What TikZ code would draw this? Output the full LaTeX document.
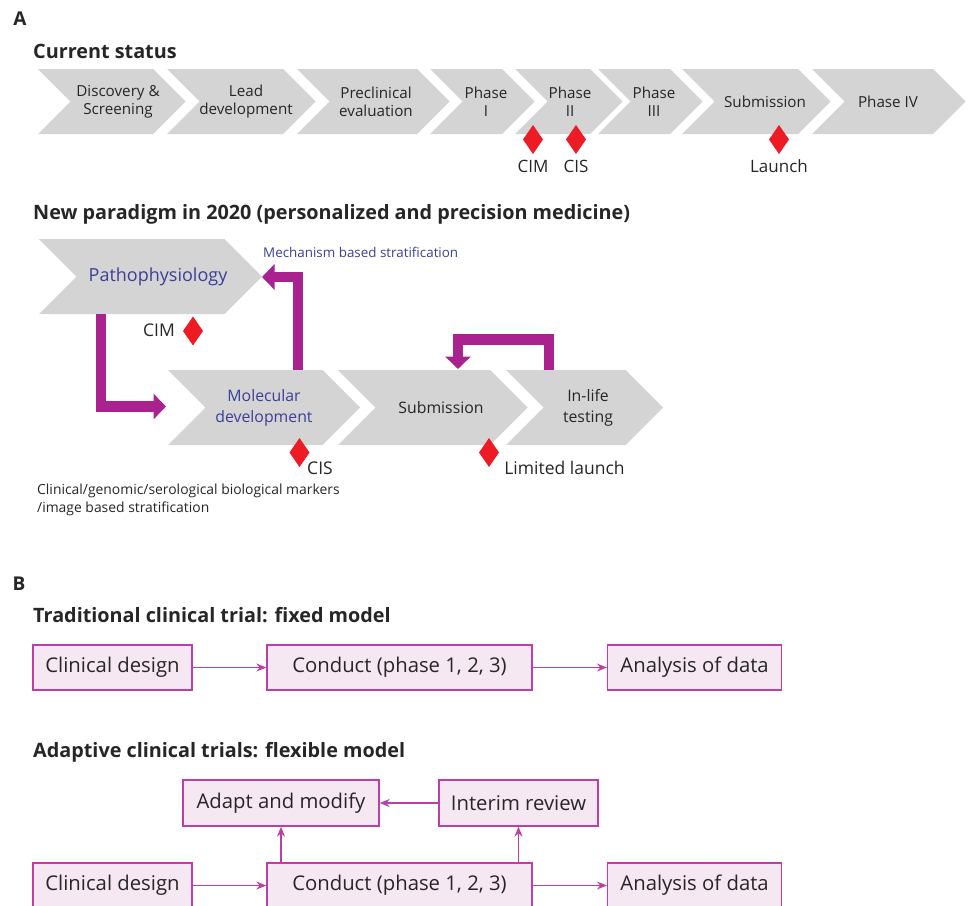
\documentclass[tikz,border=0pt]{standalone}
\usepackage{fontspec}
\setmainfont{Open Sans}
\usetikzlibrary{arrows.meta}
\definecolor{chevfill}{HTML}{D4D4D4}
\definecolor{mag}{HTML}{AA2290}
\definecolor{dred}{HTML}{ED1C24}
\definecolor{dblue}{HTML}{3B3F96}
\definecolor{boxline}{HTML}{BE3FA3}
\definecolor{boxfill}{HTML}{F6E8F3}
\definecolor{txt}{HTML}{262626}
\newcommand\chev[4]{%
 \pgfmathsetmacro\hh{(#4-#3)/2}%
 \pgfmathsetmacro\mm{(#4+#3)/2}%
 \fill[chevfill] (#1,#3) -- (#2,#3) -- ({#2+\hh},\mm) -- (#2,#4) -- (#1,#4) -- ({#1+\hh},\mm) -- cycle;}
\newcommand\dmd[3]{% x y name
 \coordinate (#3) at (#1,#2);
 \fill[dred] ($(#3)+(0,-14.5)$) -- ($(#3)+(10,0)$) -- ($(#3)+(0,14.5)$) -- ($(#3)+(-10,0)$) -- cycle;}
\usetikzlibrary{calc}
\begin{document}
\begin{tikzpicture}[x=1pt,y=-1pt,
 every node/.style={text=txt, inner sep=0pt},
 ttl/.style={font=\bfseries\fontsize{19.8}{22}\selectfont, anchor=west},
 lett/.style={font=\bfseries\fontsize{19}{22}\selectfont},
 chtxt/.style={font=\fontsize{15.2}{18}\selectfont, align=center},
 mtxt/.style={font=\fontsize{15.8}{21}\selectfont, align=center},
 dlab/.style={font=\fontsize{17.5}{20}\selectfont},
 bigarrow/.style={draw=mag, line width=10.5pt, -{Triangle[length=12.5pt,width=25pt]}},
 bbox/.style={draw=boxline, fill=boxfill, line width=1.3pt, minimum height=45pt, font=\fontsize{20.3}{24}\selectfont},
 thin/.style={draw=boxline, line width=1.3pt, -{Stealth[length=10pt,width=8pt]}}]
\useasboundingbox (0,0) rectangle (971,905);
\clip (0,0) rectangle (971,905);
% ---------- A ----------
\node[lett] (A) at (20,19) {A};
\node[ttl] (cs) at (33,51) {Current status};
\chev{38}{153}{69}{134}
\chev{167}{283}{69}{134}
\chev{297}{417}{69}{134}
\chev{430}{502}{69}{134}
\chev{515}{590}{69}{134}
\chev{598}{670}{69}{134}
\chev{682}{798}{69}{134}
\chev{812}{933}{69}{134}
\node[chtxt] (c1) at (118,101.5) {Discovery \&\\Screening};
\node[chtxt] (c2) at (246,101.5) {Lead\\development};
\node[chtxt] (c3) at (376,101.5) {Preclinical\\evaluation};
\node[chtxt] (c4) at (486,101.5) {Phase\\I};
\node[chtxt] (c5) at (570,101.5) {Phase\\II};
\node[chtxt] (c6) at (654,101.5) {Phase\\III};
\node[chtxt] (c7) at (765,101.5) {Submission};
\node[chtxt] (c8) at (888,101.5) {Phase IV};
\dmd{533}{139.5}{d1}
\dmd{576}{139.5}{d2}
\dmd{779}{139.5}{d3}
\node[dlab, font=\fontsize{17}{20}\selectfont] (l1) at (533,166) {CIM};
\node[dlab, font=\fontsize{17}{20}\selectfont] (l2) at (576,166) {CIS};
\node[dlab, font=\fontsize{17}{20}\selectfont] (l3) at (779,166) {Launch};
\node[ttl] (np) at (33,214) {New paradigm in 2020 (personalized and precision medicine)};
\chev{39}{224.5}{239}{314}
\chev{168}{322.6}{370}{445}
\chev{338}{490}{370}{445}
\chev{506}{625.5}{370}{445}
\node[font=\fontsize{18}{20}\selectfont, text=dblue] (pp) at (158,277) {Pathophysiology};
\node[font=\fontsize{13.4}{16}\selectfont, text=dblue, anchor=west] (mb) at (263,252) {Mechanism based stratification};
\node[mtxt, text=dblue] (md) at (264,407.5) {Molecular\\development};
\node[mtxt] (sb) at (441,407.5) {Submission};
\node[mtxt] (il) at (588,407.5) {In-life\\testing};
\coordinate (ppbot) at (101,314);
\coordinate (mdleft) at (166,406.5);
\coordinate (mdtop) at (298,370);
\coordinate (pptip) at (262,277);
\coordinate (iltop) at (549,370);
\coordinate (sbtop) at (458,369);
\draw[bigarrow] (ppbot) |- (mdleft);
\draw[bigarrow] (mdtop) |- (pptip);
\draw[bigarrow] (iltop) -- (549,339.5) -| (sbtop);
\dmd{193}{331}{d4}
\dmd{299.5}{452.5}{d5}
\dmd{489}{452.5}{d6}
\node[dlab] (l4) at (159,330) {CIM};
\node[dlab] (l5) at (320,468) {CIS};
\node[dlab] (l6) at (564.5,468) {Limited launch};
\node[font=\fontsize{13.9}{18}\selectfont, align=left, anchor=north west] (cg) at (37,484) {Clinical/genomic/serological biological markers\\/image based stratification};
% ---------- B ----------
\node[lett] (B) at (19,584) {B};
\node[ttl] (tc) at (33,615) {Traditional clinical trial: fixed model};
\node[bbox, minimum width=159pt] (b1) at (112.5,667.5) {Clinical design};
\node[bbox, minimum width=265pt] (b2) at (399.5,667.5) {Conduct (phase 1, 2, 3)};
\node[bbox, minimum width=174pt] (b3) at (694.6,667.5) {Analysis of data};
\draw[thin] (b1) -- (b2);
\draw[thin] (b2) -- (b3);
\node[ttl] (ac) at (33,752) {Adaptive clinical trials: flexible model};
\node[bbox, minimum width=196pt, minimum height=46pt] (am) at (281,803) {Adapt and modify};
\node[bbox, minimum width=159pt, minimum height=46pt] (ir) at (518.5,803) {Interim review};
\node[bbox, minimum width=159pt] (e1) at (112.5,885.5) {Clinical design};
\node[bbox, minimum width=265pt] (e2) at (399.5,885.5) {Conduct (phase 1, 2, 3)};
\node[bbox, minimum width=174pt] (e3) at (694.6,885.5) {Analysis of data};
\draw[thin] (e1) -- (e2);
\draw[thin] (e2) -- (e3);
\draw[thin] (ir) -- (am);
\draw[thin] (e2.north -| am.south) -- (am.south);
\draw[thin] (e2.north -| ir.south) -- (ir.south);
\end{tikzpicture}
\end{document}
